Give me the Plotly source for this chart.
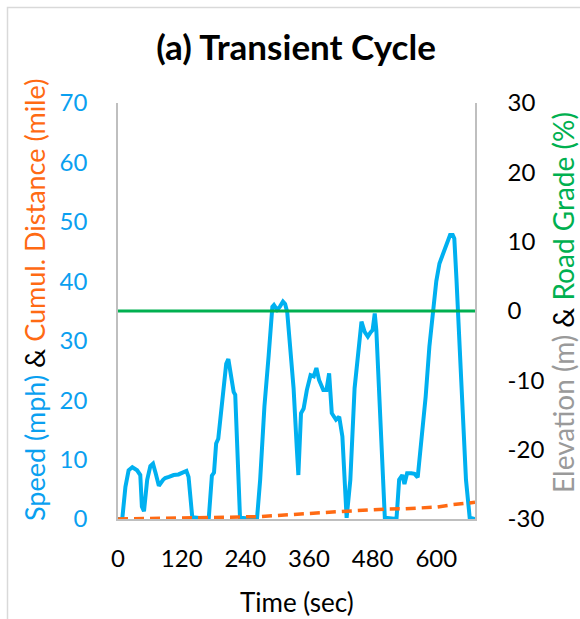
import plotly.graph_objects as go

# ---- data ----
time_s = [0, 8, 14, 20, 27, 36, 42, 45, 49, 55, 61, 66, 71, 77, 85, 89, 96, 105, 114, 124,
          129, 133, 140, 171, 177, 181, 185, 189, 196, 202, 204, 208, 213, 218, 221, 230,
          262, 268, 276, 282, 284, 291, 294, 300, 305, 311, 315, 319, 324, 331, 337, 340,
          345, 350, 356, 363, 369, 374, 379, 387, 393, 398, 403, 411, 417, 423, 431, 438,
          446, 459, 465, 471, 476, 480, 484, 487, 503, 525, 530, 536, 540, 545, 553, 559,
          565, 572, 580, 587, 594, 597, 600, 606, 612, 620, 626, 631, 634, 638, 641, 647,
          656, 663, 673]
speed_mph = [0, 0, 5.4, 8.2, 8.7, 8.2, 7.4, 2.1, 1.3, 6.6, 8.9, 9.3, 7.7, 5.6, 6.6, 6.9, 7.1, 7.4, 7.5, 7.8,
             8.1, 7.1, 0.3, 0, 7.3, 7.8, 12.7, 13.5, 20, 24, 26.1, 26.9, 24.5, 21.4, 20.9, 0.2,
             0, 6.6, 18.9, 26.8, 27.5, 35.7, 36, 35.2, 35.7, 36.6, 36.2, 34.8, 29, 22, 12, 7.4,
             17.8, 18.6, 21.7, 24.2, 24, 25.4, 23.4, 21.7, 21.7, 24.5, 17.8, 16.7, 17.2, 13.9, 0.2, 6.6,
             22, 33.2, 31.5, 30.7, 31.4, 31.8, 34.6, 31.8, 0.2, 0, 6.6, 7.4, 5.9, 7.7, 7.7, 7.6,
             7.0, 13.3, 20.6, 29, 35, 38, 40, 43, 44.5, 46.5, 47.8, 47.8, 47.2, 40.5, 34, 23.4,
             6.6, 0.2, 0]

dist_time = [0, 60, 120, 180, 240, 270, 300, 330, 360, 390, 420, 450, 480, 510, 540, 570, 600, 630, 660, 673]
dist_mile = [0, 0.08, 0.15, 0.2, 0.32, 0.4, 0.6, 0.8, 0.95, 1.1, 1.25, 1.4, 1.6, 1.7, 1.72, 1.8, 2.0, 2.4, 2.7, 2.8]

grade_time = [0, 673]
grade_pct = [0, 0]

x_ticks = [0, 120, 240, 360, 480, 600]
y_ticks = [0, 10, 20, 30, 40, 50, 60, 70]
y2_ticks = [-30, -20, -10, 0, 10, 20, 30]
y2_labels = ["-30", "-20", "-10", "0", "10", "20", "30"]

BLUE = "#00B0F0"
BLUE_TXT = "#0AA0F0"
ORANGE = "#FF6A13"
GREEN = "#00B050"
GRAY_TXT = "#9A9A9A"
AXIS = "#BFBFBF"
FONT = "Lato"

fig = go.Figure()
fig.add_trace(go.Scatter(x=time_s, y=speed_mph, mode="lines",
                         line=dict(color=BLUE, width=4), name="Speed", yaxis="y"))
fig.add_trace(go.Scatter(x=dist_time, y=dist_mile, mode="lines",
                         line=dict(color=ORANGE, width=3.5, dash="10px,6px"), name="Distance", yaxis="y"))
fig.add_trace(go.Scatter(x=grade_time, y=grade_pct, mode="lines",
                         line=dict(color=GREEN, width=3), name="Road Grade", yaxis="y2"))

L, R, T, B = 118, 105, 103, 100
W, H = 580, 619
pw, ph = W - L - R, H - T - B

def px_to_paper_x(px):
    return (px - L) / pw

def px_to_paper_y(py):
    return (H - B - py) / ph

fig.update_layout(
    width=W, height=H,
    margin=dict(l=L, r=R, t=T, b=B),
    paper_bgcolor="white", plot_bgcolor="white",
    showlegend=False,
    font=dict(family=FONT, size=24, color="#000000"),
    title=dict(text="<b>(a) Transient Cycle</b>", x=296 / W,
               xanchor="center", y=(H - 48) / H, yanchor="middle",
               font=dict(family=FONT, size=35, color="#000000")),
    xaxis=dict(range=[0, 673], tickvals=x_ticks, ticktext=[str(v) for v in x_ticks],
               showgrid=False, zeroline=False, showline=True, linecolor=AXIS, linewidth=1.5,
               ticks="", ticklabelstandoff=17, tickfont=dict(family=FONT, size=24, color="#000000")),
    yaxis=dict(range=[0, 70], tickvals=y_ticks, showgrid=False, zeroline=False,
               showline=True, linecolor=AXIS, linewidth=1.5, ticks="", ticklabelstandoff=24,
               tickfont=dict(family=FONT, size=24, color=BLUE_TXT)),
    yaxis2=dict(range=[-30, 30], tickvals=y2_ticks, ticktext=y2_labels, overlaying="y", side="right",
                showgrid=False, zeroline=False, showline=True, linecolor=AXIS, linewidth=1.5,
                ticks="", ticklabelstandoff=26,
                tickfont=dict(family=FONT, size=24, color="#000000")),
)

fig.add_annotation(
    text=(f'<span style="color:{BLUE_TXT}">Speed (mph)</span> &amp; '
          f'<span style="color:{ORANGE}">Cumul. Distance (mile)</span>'),
    xref="paper", yref="paper", x=px_to_paper_x(34), y=px_to_paper_y(300),
    textangle=-90, showarrow=False, xanchor="center", yanchor="middle",
    font=dict(family=FONT, size=27, color="#000000"))
fig.add_annotation(
    text=(f'<span style="color:{GRAY_TXT}">Elevation (m)</span> &amp; '
          f'<span style="color:{GREEN}">Road Grade (%)</span>'),
    xref="paper", yref="paper", x=px_to_paper_x(563), y=px_to_paper_y(303),
    textangle=-90, showarrow=False, xanchor="center", yanchor="middle",
    font=dict(family=FONT, size=28, color="#000000"))
fig.add_annotation(
    text="Time (sec)", xref="paper", yref="paper", x=px_to_paper_x(297), y=px_to_paper_y(602),
    showarrow=False, xanchor="center", yanchor="middle",
    font=dict(family=FONT, size=26, color="#000000"))

# outer chart-area border (partially visible, top-left)
fig.add_shape(type="rect", xref="paper", yref="paper",
              x0=px_to_paper_x(7.5), y0=px_to_paper_y(700), x1=px_to_paper_x(700), y1=px_to_paper_y(7.5),
              line=dict(color="#D9D9D9", width=1.5), fillcolor="rgba(0,0,0,0)", layer="below")

fig.write_html("out.html")
